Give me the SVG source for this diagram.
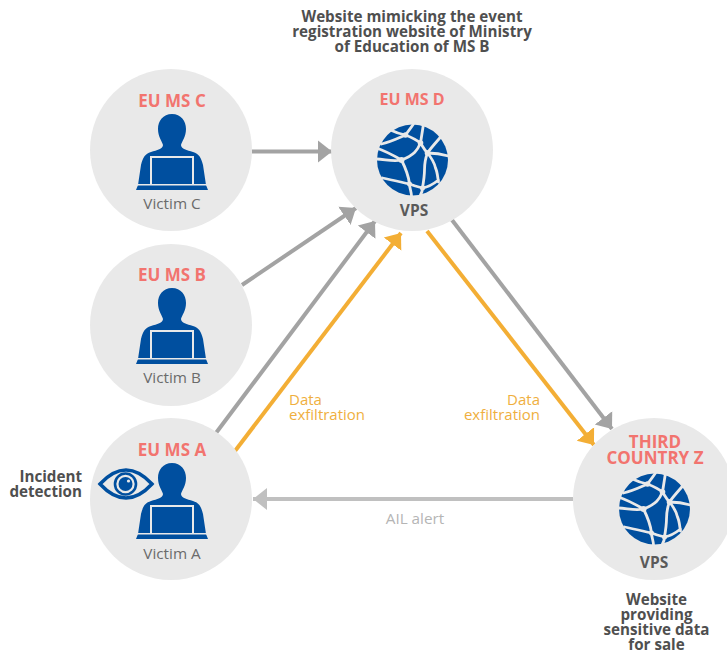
<svg xmlns="http://www.w3.org/2000/svg" width="727" height="655" viewBox="0 0 727 655">
<style>
text{font-family:"Open Sans","Liberation Sans",sans-serif}
.disc{fill:#e9e9e9}
.ms{font-size:17px;font-weight:700;fill:#f2746f;text-anchor:middle}
.vic{font-size:15.300px;fill:#6b6b6b;text-anchor:middle}
.vps{font-size:15.500px;font-weight:700;fill:#5a5a5a;text-anchor:middle}
.note{font-size:15.200px;font-weight:700;fill:#4f4f4f;text-anchor:middle}
.ora{font-size:15px;fill:#efaf3e}
.ail{font-size:15.300px;fill:#b5b5b5;text-anchor:middle}
.blue{fill:#004f9f}
.net{fill:none;stroke:#e9e9e9;stroke-width:2.800;stroke-linejoin:round;stroke-linecap:round}
.nd{fill:#e9e9e9}
.c{fill:none;stroke-width:4}
</style>
<defs>
<marker id="ag" markerUnits="userSpaceOnUse" markerWidth="16" markerHeight="24" refX="14" refY="12" orient="auto"><path d="M0 1L14 12L0 23Z" fill="#a3a3a3"/></marker>
<marker id="al" markerUnits="userSpaceOnUse" markerWidth="16" markerHeight="24" refX="14" refY="12" orient="auto"><path d="M0 1L14 12L0 23Z" fill="#c0c0c0"/></marker>
<marker id="ao" markerUnits="userSpaceOnUse" markerWidth="16" markerHeight="24" refX="14" refY="12" orient="auto"><path d="M0 1L14 12L0 23Z" fill="#f3ae35"/></marker>
<g id="person">
<path class="blue" d="M172 114C181 114 186 121 186 129C186 137 182 141 181 145C181 149 187 150 193 152C199 154 201 157 203 165L206 185L208 190L136 190L138 185L141 165C143 157 145 154 151 152C157 150 163 149 163 145C162 141 158 137 158 129C158 121 163 114 172 114Z"/>
<path d="M151 184.500V157H193V184.500" fill="none" stroke="#e9e9e9" stroke-width="2"/>
<path d="M136 184.800H208" stroke="#e9e9e9" stroke-width="1.500"/>
</g>
<g id="globe">
<circle class="blue" cx="0" cy="0" r="35.500"/>
<path class="net" d="M-31 -16C-22 -18 -14 -22 -7 -25M-22 -30C-16 -27 -12 -26 -7 -25C-2 -23 4 -20 8 -17C10 -14 12 -10 15 -7M-7 -25C-4 -29 -1 -33 1 -36M8 -17C9 -23 10 -30 11 -36M15 -7C19 -13 24 -18 29 -24M15 -7C22 -7 29 -6 36 -4M8 -17C5 -10 2 -5 -11 0C-18 -4 -27 -9 -36 -12M-11 0C-7 8 -4 15 -3 24C-12 22 -20 20 -30 18M-11 0C-20 2 -28 -1 -36 -1M-3 24C-3 28 -1 32 -1 36M-3 24C2 26 6 27 10 28C16 27 21 24 26 20M10 28C10 31 9 33 8 35M15 -7C13 -2 12 3 12 10C12 16 11 22 10 28M15 -7C19 -2 22 3 23 8C25 12 25 17 26 22"/>
<circle class="nd" cx="-7" cy="-25" r="2.800"/><circle class="nd" cx="8" cy="-17" r="2.800"/><circle class="nd" cx="15" cy="-7" r="2.800"/><circle class="nd" cx="-11" cy="0" r="3"/><circle class="nd" cx="-3" cy="24" r="2.500"/><circle class="nd" cx="10" cy="28" r="2.500"/>
</g>
</defs>

<g id="connectors">
<path class="c" stroke="#a3a3a3" marker-end="url(#ag)" d="M252 151.500H332"/>
<path class="c" stroke="#a3a3a3" marker-end="url(#ag)" d="M242 285L356 208"/>
<path class="c" stroke="#a3a3a3" marker-end="url(#ag)" d="M216 433L375 221"/>
<path class="c" stroke="#f3ae35" marker-end="url(#ao)" d="M235 451L401 233"/>
<path class="c" stroke="#f3ae35" marker-end="url(#ao)" d="M427 231L594 445"/>
<path class="c" stroke="#a3a3a3" marker-end="url(#ag)" d="M452 220L612 429"/>
<path class="c" stroke="#c0c0c0" marker-end="url(#al)" d="M573 499H253"/>
</g>

<g id="node-c">
<circle class="disc" cx="171" cy="150" r="81"/>
<text class="ms" x="172" y="107">EU MS C</text>
<use href="#person"/>
<text class="vic" x="172" y="209">Victim C</text>
</g>
<g id="node-d">
<circle class="disc" cx="412" cy="150" r="81"/>
<text class="ms" x="412" y="105" style="font-size:16px">EU MS D</text>
<use href="#globe" x="412.500" y="160"/>
<text class="vps" x="414" y="216">VPS</text>
</g>
<g id="node-b">
<circle class="disc" cx="171" cy="325" r="81"/>
<text class="ms" x="172" y="281">EU MS B</text>
<use href="#person" y="174"/>
<text class="vic" x="172" y="383">Victim B</text>
</g>
<g id="node-a">
<circle class="disc" cx="171" cy="499" r="81"/>
<text class="ms" x="172" y="456">EU MS A</text>
<use href="#person" y="349"/>
<text class="vic" x="172" y="559">Victim A</text>
<g id="eye">
<path d="M100 484C112 471 122 470 126 470C130 470 140 471 152 484C140 497 130 498 126 498C122 498 112 497 100 484Z" fill="#e9e9e9" stroke="#004f9f" stroke-width="3.500"/>
<circle cx="125.500" cy="484" r="10.500" fill="#e9e9e9" stroke="#004f9f" stroke-width="2.600"/>
<circle class="blue" cx="125.500" cy="484" r="7"/>
<circle cx="128.500" cy="481" r="1.600" fill="#e9e9e9"/>
</g>
</g>
<g id="node-z">
<circle class="disc" cx="654" cy="499" r="81"/>
<text class="ms" x="655" y="448">THIRD<tspan x="655" dy="16">COUNTRY Z</tspan></text>
<use href="#globe" x="654.500" y="509"/>
<text class="vps" x="654" y="568">VPS</text>
</g>

<g id="labels">
<text class="note" x="412" y="22">Website mimicking the event<tspan x="412" dy="15">registration website of Ministry</tspan><tspan x="412" dy="15">of Education of MS B</tspan></text>
<text class="note" style="text-anchor:end" x="82" y="482">Incident<tspan x="82" dy="15">detection</tspan></text>
<text class="note" x="656.500" y="605">Website<tspan x="656.500" dy="15">providing</tspan><tspan x="656.500" dy="15">sensitive data</tspan><tspan x="656.500" dy="15">for sale</tspan></text>
<text class="ora" x="289" y="405">Data<tspan x="289" dy="15">exfiltration</tspan></text>
<text class="ora" text-anchor="end" x="540" y="405">Data<tspan x="540" dy="15">exfiltration</tspan></text>
<text class="ail" x="415" y="524">AIL alert</text>
</g>
</svg>
